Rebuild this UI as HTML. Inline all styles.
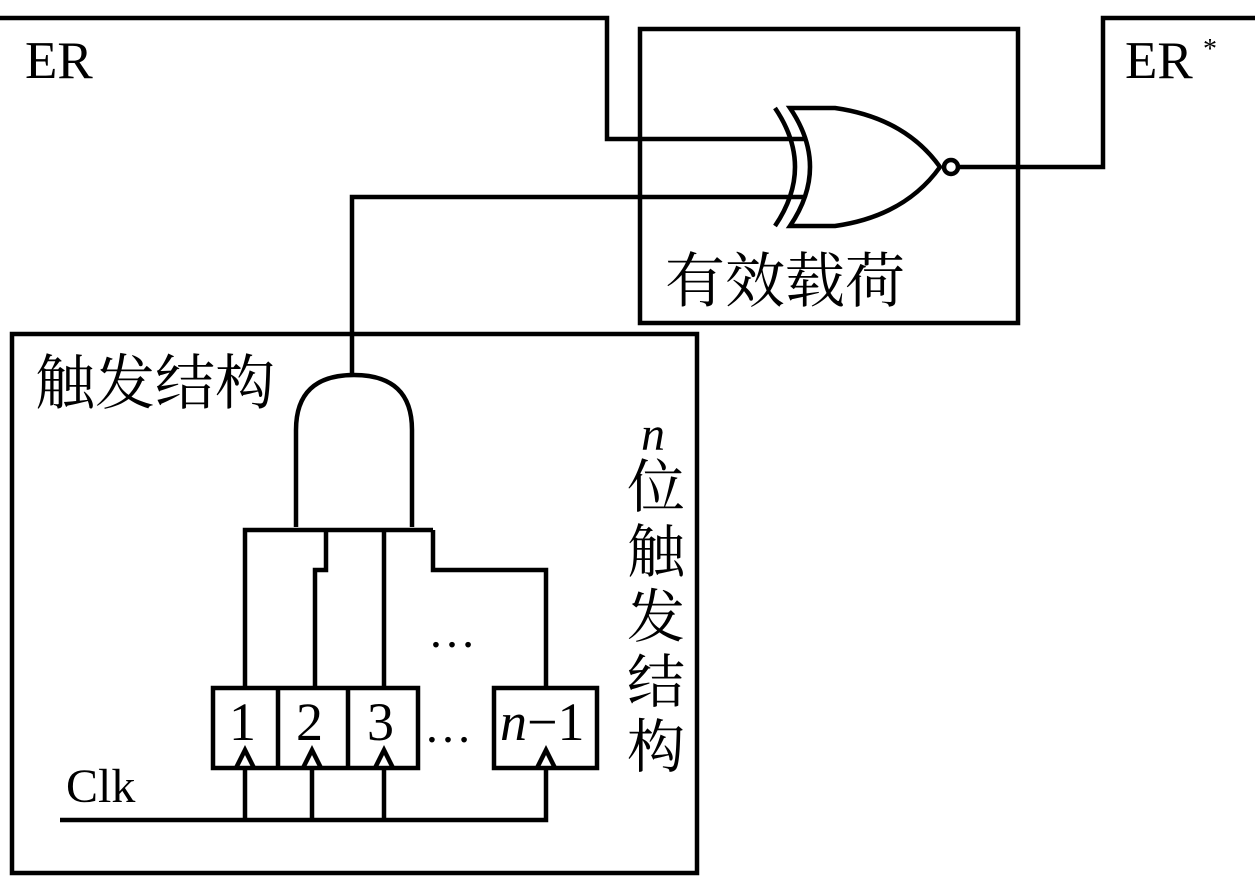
<!DOCTYPE html>
<html><head><meta charset="utf-8"><style>
html,body{margin:0;padding:0;background:#fff;}
svg{display:block;}
text{fill:#000;}
.s{font-family:"Liberation Serif","Noto Serif CJK SC",serif;}
</style></head><body>
<svg width="1255" height="877" viewBox="0 0 1255 877" xmlns="http://www.w3.org/2000/svg">
<g fill="none" stroke="#000" stroke-width="4.5" stroke-linejoin="miter">
<rect x="640" y="29" width="378" height="294"/>
<rect x="12" y="334" width="685" height="539"/>
<polyline points="0,18 607,18 607,139 805,139"/>
<polyline points="352,375 352,197 805,197"/>
<path d="M775,108 Q815,167 775,226"/>
<path d="M790,108 L835,108 Q905,118 940,167 Q905,216 835,226 L790,226 Q830,167 790,108 Z"/>
<circle cx="951" cy="167" r="7"/>
<polyline points="958,167 1103,167 1103,18 1255,18"/>
<path d="M296,527 L296,430 Q296,375 354,375 Q412,375 412,430 L412,527"/>
<polyline points="245,688 245,530 433,530"/>
<polyline points="326,530 326,570 315,570 315,688"/>
<line x1="384" y1="530" x2="384" y2="688"/>
<polyline points="433,530 433,570 546,570 546,688"/>
<rect x="213" y="688" width="205" height="80"/>
<line x1="278" y1="688" x2="278" y2="768"/>
<line x1="348" y1="688" x2="348" y2="768"/>
<rect x="494" y="688" width="103" height="80"/>
<polyline points="236,768 245,750 254,768"/>
<polyline points="303,768 312,750 321,768"/>
<polyline points="375,768 384,750 393,768"/>
<polyline points="537,768 546,750 555,768"/>
<polyline points="60,820 546,820 546,768"/>
<line x1="245" y1="768" x2="245" y2="820"/>
<line x1="312" y1="768" x2="312" y2="820"/>
<line x1="384" y1="768" x2="384" y2="820"/>
</g>
<g class="s">
<text x="25" y="78" font-size="53">ER</text>
<text x="1125" y="78" font-size="53">ER</text>
<text x="1203" y="58" font-size="28">*</text>
<text x="665" y="302" font-size="60">有效载荷</text>
<text x="35" y="404" font-size="60">触发结构</text>
<text x="66" y="802" font-size="48">Clk</text>
<text x="229" y="740" font-size="54">1</text>
<text x="296" y="740" font-size="54">2</text>
<text x="367" y="740" font-size="54">3</text>
<text x="500" y="740" font-size="54"><tspan font-style="italic">n</tspan>−1</text>
<text x="424" y="742" font-size="48">…</text>
<text x="428" y="647" font-size="48">…</text>
<text x="641" y="450" font-size="48" font-style="italic">n</text>
<text x="627" y="507" font-size="58">位</text>
<text x="627" y="572" font-size="58">触</text>
<text x="627" y="637" font-size="58">发</text>
<text x="627" y="702" font-size="58">结</text>
<text x="627" y="767" font-size="58">构</text>
</g>
</svg>
</body></html>
